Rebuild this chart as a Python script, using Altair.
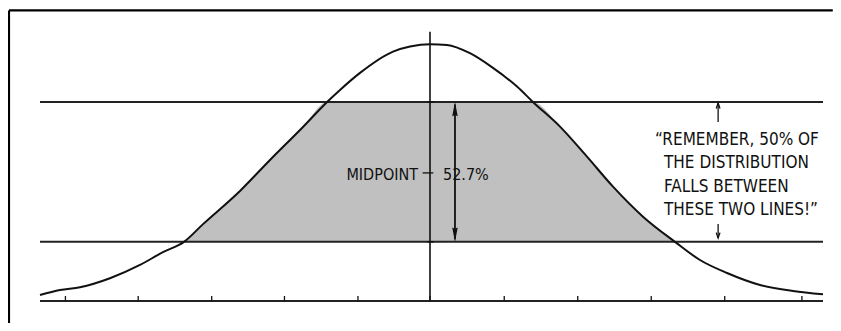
import altair as alt
import pandas as pd

# ---- data (x: tick units, y: curve height, peak ~100) ----
curve_x = [-5.306, -5.034, -4.762, -4.354, -3.946, -3.633, -3.347, -3.088, -2.585,
           -2.177, -1.728, -1.400, -1.224, -0.952, -0.503, -0.272, 0.0, 0.231,
           0.544, 0.857, 1.184, 1.400, 1.769, 2.136, 2.490, 2.898, 3.333, 3.673,
           4.041, 4.490, 4.939, 5.347]
curve_y = [2.33, 4.28, 5.33, 8.83, 14.01, 19.0, 23.0, 29.9, 42.8,
           54.86, 67.70, 77.43, 82.10, 88.72, 97.00, 98.95, 99.88, 99.61,
           96.38, 90.66, 83.39, 77.43, 67.82, 56.15, 44.47, 32.80, 23.0, 15.95,
           10.89, 6.23, 3.89, 2.61]
tick_x = [-4.96, -3.97, -2.97, -1.98, -0.98, 0.0, 1.01, 2.01, 3.01, 4.01, 5.06]
upper_level = 77.43
lower_level = 23.0
annotation_lines = ["\u201cREMEMBER, 50% OF", "THE DISTRIBUTION", "FALLS BETWEEN", "THESE TWO LINES!\u201d"]
midpoint_label = "MIDPOINT"
share_label = "52.7%"

# ---- layout constants (data units) ----
x_min, x_max = -5.306, 5.347
y_top = 105.4
center_line_top = 104.7
frame_left, frame_top, frame_right, frame_bottom = -5.728, 113.0, 5.48, -9.0
tick_len = 1.95
big_arrow_x = 0.34
small_arrow_x = 3.92
ann_x = [3.061, 3.184, 3.184, 3.184]
ann_y = [60.70, 51.75, 42.41, 33.46]

FONT = "DejaVu Sans Condensed, Liberation Sans Narrow, DejaVu Sans"
INK = "#111111"

xs = alt.Scale(domain=[x_min, x_max], nice=False, zero=False)
ys = alt.Scale(domain=[0, y_top], nice=False, zero=False)


def X(f="x"):
    return alt.X(f"{f}:Q", scale=xs, axis=None)


def Y(f="y"):
    return alt.Y(f"{f}:Q", scale=ys, axis=None)


curve_df = pd.DataFrame({"x": curve_x, "y": curve_y})

fill = (
    alt.Chart(curve_df)
    .transform_filter(f"datum.y >= {lower_level} - 0.01")
    .transform_calculate(top=f"min(datum.y, {upper_level})", bot=f"{lower_level}")
    .mark_area(color="#c0c0c0", interpolate="monotone")
    .encode(x=X(), y=Y("top"), y2="bot:Q")
)

hlines_df = pd.DataFrame({"x": [x_min, x_min, x_min], "x2": [x_max, x_max, x_max],
                          "y": [upper_level, lower_level, 0.0]})
hlines = alt.Chart(hlines_df).mark_rule(color="#222222", strokeWidth=2).encode(
    x=X(), x2="x2:Q", y=Y())

ticks_df = pd.DataFrame({"x": tick_x, "y": [0.0] * len(tick_x), "y2": [tick_len] * len(tick_x)})
ticks = alt.Chart(ticks_df).mark_rule(color=INK, strokeWidth=1.3).encode(x=X(), y=Y(), y2="y2:Q")

curve = alt.Chart(curve_df).mark_line(color=INK, strokeWidth=2, interpolate="monotone").encode(
    x=X(), y=Y())

center_df = pd.DataFrame({"x": [0.0], "y": [0.0], "y2": [center_line_top]})
center = alt.Chart(center_df).mark_rule(color=INK, strokeWidth=1.6).encode(x=X(), y=Y(), y2="y2:Q")

# small horizontal marks on the centre line
marks_df = pd.DataFrame({"x": [-0.04, -0.04, -0.10], "x2": [0.055, 0.055, 0.045],
                         "y": [upper_level, lower_level, (upper_level + lower_level) / 2 - 0.4]})
center_marks = alt.Chart(marks_df).mark_rule(color=INK, strokeWidth=1.3).encode(
    x=X(), x2="x2:Q", y=Y())

# frame (left and top edges of the panel)
frame_df = pd.DataFrame({"x": [frame_left, frame_left], "x2": [frame_left, frame_right],
                         "y": [frame_bottom, frame_top], "y2": [frame_top, frame_top]})
frame = alt.Chart(frame_df).mark_rule(color="#000000", strokeWidth=2.2).encode(
    x=X(), x2="x2:Q", y=Y(), y2="y2:Q")

# big double arrow
big_shaft = alt.Chart(pd.DataFrame({"x": [big_arrow_x], "y": [lower_level + 1.0], "y2": [upper_level - 1.0]})).mark_rule(
    color=INK, strokeWidth=1.8).encode(x=X(), y=Y(), y2="y2:Q")
head_up = "M0,-1L0.38,1L0,0.8L-0.38,1Z"
head_down = "M0,1L0.38,-1L0,-0.8L-0.38,-1Z"
big_head_up = alt.Chart(pd.DataFrame({"x": [big_arrow_x], "y": [upper_level]})).mark_point(
    shape=head_up, size=210, filled=True, color=INK, opacity=1, yOffset=7.2).encode(x=X(), y=Y())
big_head_down = alt.Chart(pd.DataFrame({"x": [big_arrow_x], "y": [lower_level]})).mark_point(
    shape=head_down, size=210, filled=True, color=INK, opacity=1, yOffset=-7.2).encode(x=X(), y=Y())

# small arrows near the quote
small_df = pd.DataFrame({"x": [small_arrow_x, small_arrow_x], "y": [77.0, 24.5], "y2": [69.65, 29.96]})
small_shafts = alt.Chart(small_df).mark_rule(color=INK, strokeWidth=1.3).encode(x=X(), y=Y(), y2="y2:Q")
chev_up = "M-0.6,0.7L0,-1L0.6,0.7"
chev_down = "M-0.6,-0.7L0,1L0.6,-0.7"
small_up = alt.Chart(pd.DataFrame({"x": [small_arrow_x], "y": [77.0]})).mark_point(
    shape=chev_up, size=40, filled=False, color=INK, strokeWidth=1.3, opacity=1, yOffset=3.2).encode(x=X(), y=Y())
small_down = alt.Chart(pd.DataFrame({"x": [small_arrow_x], "y": [24.5]})).mark_point(
    shape=chev_down, size=40, filled=False, color=INK, strokeWidth=1.3, opacity=1, yOffset=-3.2).encode(x=X(), y=Y())

# texts
mid_df = pd.DataFrame({"x": [-0.163], "y": [47.1], "t": [midpoint_label]})
mid_text = alt.Chart(mid_df).mark_text(align="right", baseline="alphabetic", font=FONT,
                                       fontSize=16, color=INK).encode(x=X(), y=Y(), text="t:N")
share_df = pd.DataFrame({"x": [0.177], "y": [47.1], "t": [share_label]})
share_text = alt.Chart(share_df).mark_text(align="left", baseline="alphabetic", font=FONT,
                                           fontSize=16, color=INK).encode(x=X(), y=Y(), text="t:N")
ann_df = pd.DataFrame({"x": ann_x, "y": ann_y, "t": annotation_lines})
ann_text = alt.Chart(ann_df).mark_text(align="left", baseline="alphabetic", font=FONT,
                                       fontSize=17, color=INK).encode(x=X(), y=Y(), text="t:N")

chart = alt.layer(
    fill, hlines, ticks, curve, center, center_marks, frame,
    big_shaft, big_head_up, big_head_down, small_shafts, small_up, small_down,
    mid_text, share_text, ann_text,
).properties(
    width=783, height=271,
    autosize=alt.AutoSizeParams(type="none"),
    padding={"left": 32, "top": 22, "right": 10, "bottom": 22},
    background="white",
).configure_view(stroke=None)

chart.save("out.html", embed_options={"renderer": "svg", "actions": False})
